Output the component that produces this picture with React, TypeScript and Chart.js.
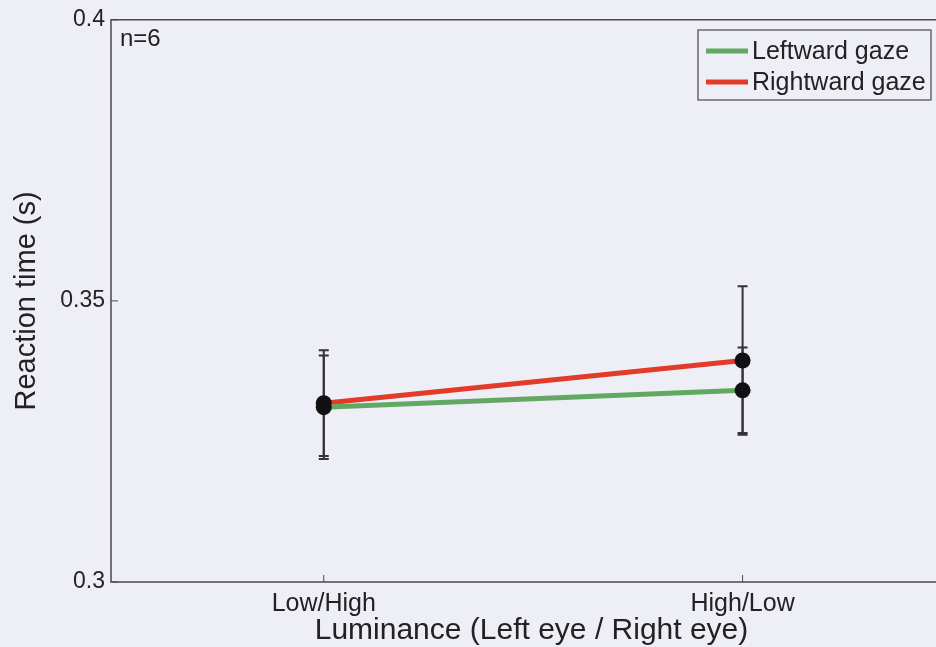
import React, { useEffect, useRef } from "react";
import { Chart, registerables } from "chart.js";

Chart.register(...registerables);

// ---- data ----
const categories = ["Low/High", "High/Low"];
const categoryPositions = [1, 2];
const seriesNames = ["Leftward gaze", "Rightward gaze"];
const leftwardMeans = [0.3311, 0.3341];
const rightwardMeans = [0.3318, 0.3394];
const leftwardErr = [0.0092, 0.0076];
const rightwardErr = [0.0094, 0.0132];
const yTickValues = [0.3, 0.35, 0.4];
const yTickLabels = ["0.3", "0.35", "0.4"];
const annotationText = "n=6";
const xTitle = "Luminance (Left eye / Right eye)";
const yTitle = "Reaction time (s)";

const GREEN = "#62a862";
const RED = "#e23b2a";
const BG = "#eeeef6";
const AXIS = "#4a4a4a";
const TEXT = "#222222";
const FONT = "'Liberation Sans', Arial, sans-serif";

const errors = [leftwardErr, rightwardErr];

const toPoints = (vals: number[]) =>
  vals.map((v, i) => ({ x: categoryPositions[i], y: v }));

const bgPlugin = {
  id: "bg",
  beforeDraw(chart: any) {
    const { ctx, width, height } = chart;
    ctx.save();
    ctx.fillStyle = BG;
    ctx.fillRect(0, 0, width, height);
    ctx.restore();
  },
};

const framePlugin = {
  id: "frame",
  afterDraw(chart: any) {
    const { ctx, chartArea } = chart;
    const { left, right, top, bottom } = chartArea;
    const x = chart.scales.x;
    const y = chart.scales.y;
    ctx.save();
    ctx.strokeStyle = AXIS;
    ctx.lineWidth = 1.5;
    ctx.beginPath();
    ctx.moveTo(right + 5, top);
    ctx.lineTo(left, top);
    ctx.lineTo(left, bottom);
    ctx.lineTo(right + 5, bottom);
    ctx.stroke();
    // inward ticks
    ctx.lineWidth = 1;
    ctx.beginPath();
    yTickValues.forEach((v) => {
      const py = y.getPixelForValue(v);
      ctx.moveTo(left, py);
      ctx.lineTo(left + 7, py);
    });
    categoryPositions.forEach((c) => {
      const px = x.getPixelForValue(c);
      ctx.moveTo(px, bottom);
      ctx.lineTo(px, bottom - 7);
    });
    ctx.stroke();

    // annotation
    ctx.fillStyle = TEXT;
    ctx.font = `24px ${FONT}`;
    ctx.textBaseline = "middle";
    ctx.textAlign = "left";
    ctx.fillText(annotationText, left + 9, top + 20);

    // legend
    const lx = 698, ly = 30, lw = 233, lh = 70;
    ctx.fillStyle = BG;
    ctx.fillRect(lx, ly, lw, lh);
    ctx.strokeStyle = AXIS;
    ctx.lineWidth = 1.2;
    ctx.strokeRect(lx, ly, lw, lh);
    chart.data.datasets.forEach((ds: any, i: number) => {
      const yy = ly + 21 + i * 31;
      ctx.strokeStyle = ds.borderColor;
      ctx.lineWidth = 5;
      ctx.beginPath();
      ctx.moveTo(lx + 8, yy);
      ctx.lineTo(lx + 50, yy);
      ctx.stroke();
      ctx.fillStyle = TEXT;
      ctx.font = `25px ${FONT}`;
      ctx.textBaseline = "middle";
      ctx.fillText(ds.label, lx + 54, yy + 1);
    });
    ctx.restore();
  },
};

const errorPlugin = {
  id: "errbars",
  beforeDatasetsDraw(chart: any) {
    const { ctx } = chart;
    const x = chart.scales.x;
    const y = chart.scales.y;
    ctx.save();
    ctx.strokeStyle = "#333333";
    ctx.lineWidth = 2;
    chart.data.datasets.forEach((ds: any, i: number) => {
      ds.data.forEach((p: any, j: number) => {
        const e = errors[i][j];
        const px = x.getPixelForValue(p.x);
        const pt = y.getPixelForValue(p.y + e);
        const pb = y.getPixelForValue(p.y - e);
        ctx.beginPath();
        ctx.moveTo(px, pt);
        ctx.lineTo(px, pb);
        ctx.moveTo(px - 5, pt);
        ctx.lineTo(px + 5, pt);
        ctx.moveTo(px - 5, pb);
        ctx.lineTo(px + 5, pb);
        ctx.stroke();
      });
    });
    ctx.restore();
  },
};

export default function App() {
  const ref = useRef<HTMLCanvasElement | null>(null);
  useEffect(() => {
    if (!ref.current) return;
    const mkDs = (label: string, vals: number[], color: string) => ({
      label,
      data: toPoints(vals),
      borderColor: color,
      backgroundColor: color,
      borderWidth: 5,
      pointRadius: 8,
      pointBackgroundColor: "#111111",
      pointBorderColor: "#111111",
      pointBorderWidth: 0,
      tension: 0,
    });
    const chart = new Chart(ref.current, {
      type: "line",
      data: {
        datasets: [
          mkDs(seriesNames[0], leftwardMeans, GREEN),
          mkDs(seriesNames[1], rightwardMeans, RED),
        ],
      },
      options: {
        responsive: false,
        animation: false,
        devicePixelRatio: 1,
        layout: { padding: { top: 19, left: 0, right: 0, bottom: 0 } },
        plugins: {
          legend: { display: false },
          tooltip: { enabled: false },
        },
        scales: {
          x: {
            type: "linear",
            min: 0.492,
            max: 2.5,
            grid: { display: false, drawTicks: false },
            border: { display: false },
            afterBuildTicks(scale: any) {
              scale.ticks = categoryPositions.map((v) => ({ value: v }));
            },
            ticks: {
              color: TEXT,
              font: { family: FONT, size: 25 },
              padding: 7,
              maxRotation: 0,
              callback: (v: any) => {
                const idx = categoryPositions.indexOf(Number(v));
                return idx >= 0 ? categories[idx] : "";
              },
            },
            title: {
              display: true,
              text: xTitle,
              color: TEXT,
              font: { family: FONT, size: 30, lineHeight: 1 },
              padding: { top: 0, bottom: 1 },
            },
            afterFit(scale: any) {
              scale.height = 65;
            },
          },
          y: {
            type: "linear",
            min: 0.3,
            max: 0.4,
            grid: { display: false, drawTicks: false },
            border: { display: false },
            afterBuildTicks(scale: any) {
              scale.ticks = yTickValues.map((v) => ({ value: v }));
            },
            ticks: {
              color: TEXT,
              font: { family: FONT, size: 23 },
              padding: 6,
              callback: (v: any) => {
                const idx = yTickValues.findIndex((t) => Math.abs(t - Number(v)) < 1e-9);
                return idx >= 0 ? yTickLabels[idx] : "";
              },
            },
            title: {
              display: true,
              text: yTitle,
              color: TEXT,
              font: { family: FONT, size: 29, lineHeight: 1 },
              padding: { top: 12, bottom: 0 },
            },
            afterFit(scale: any) {
              scale.width = 111;
            },
          },
        },
      },
      plugins: [bgPlugin, errorPlugin, framePlugin],
    });
    return () => chart.destroy();
  }, []);

  return (
    <div
      style={{
        position: "fixed",
        left: 0,
        top: 0,
        width: 936,
        height: 647,
        overflow: "hidden",
        background: BG,
      }}
    >
      <canvas ref={ref} width={960} height={647} style={{ display: "block" }} />
    </div>
  );
}
